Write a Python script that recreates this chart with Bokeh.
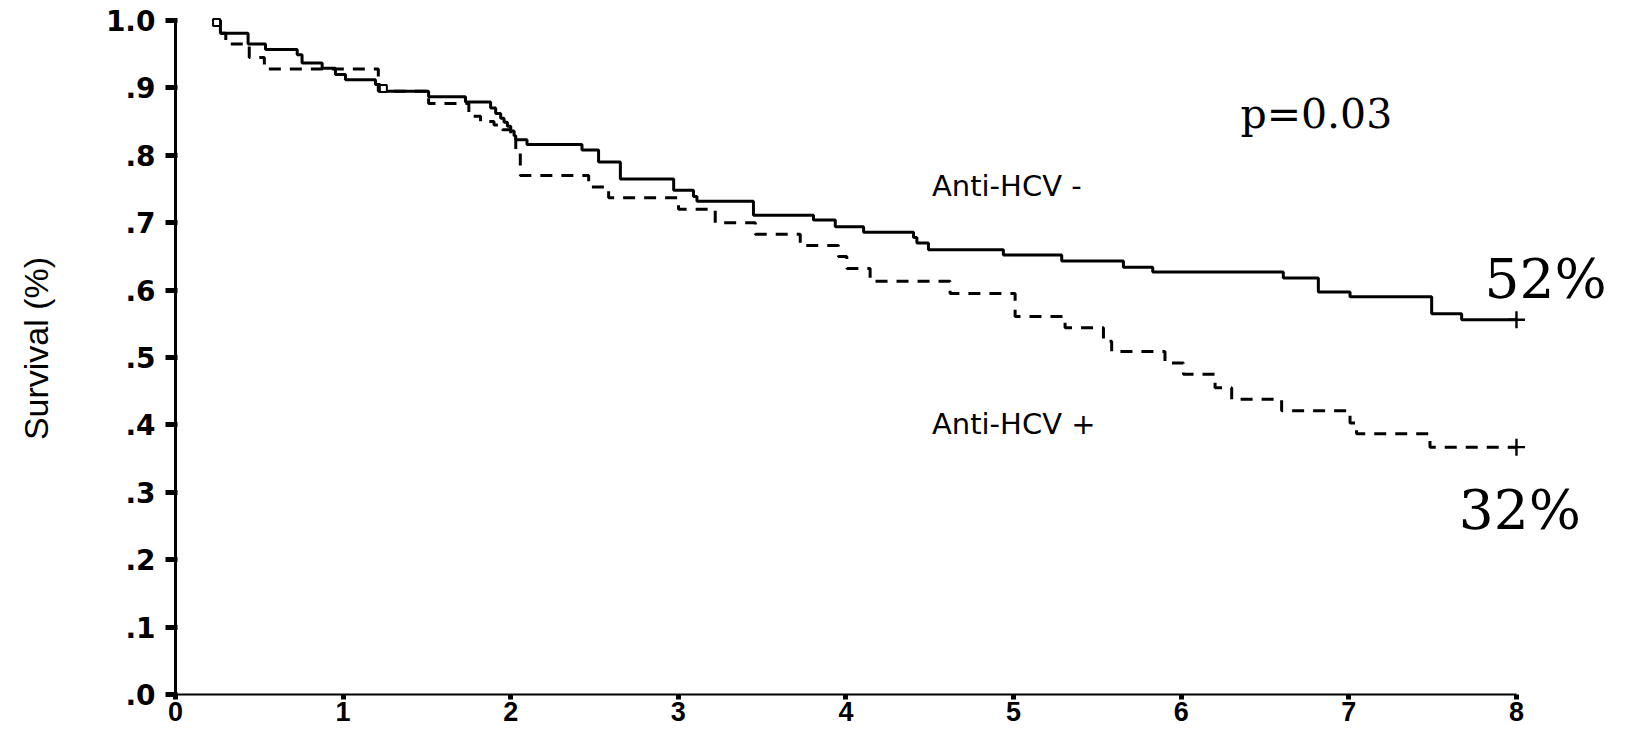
from bokeh.plotting import figure
from bokeh.models import Range1d, FixedTicker
from bokeh.core.properties import value
from bokeh.embed import file_html
from bokeh.resources import INLINE

# ---- data (time in years, survival fraction) ----
times_neg = [0.22, 0.268, 0.433, 0.537, 0.726, 0.755, 0.875, 0.954, 1.014, 1.193, 1.22,
             1.51, 1.73, 1.88, 1.91, 1.94, 1.96, 1.98, 2.00, 2.02, 2.03, 2.097, 2.425,
             2.524, 2.654, 2.972, 3.09, 3.111, 3.448, 3.806, 3.936, 4.105, 4.403, 4.423,
             4.492, 4.939, 5.287, 5.655, 5.830, 6.609, 6.818, 7.007, 7.494, 7.673, 8.0]
surv_neg = [1.0, 0.981, 0.965, 0.957, 0.949, 0.937, 0.929, 0.920, 0.912, 0.905, 0.895,
            0.887, 0.879, 0.870, 0.862, 0.855, 0.849, 0.843, 0.836, 0.829, 0.823, 0.816, 0.808,
            0.790, 0.765, 0.748, 0.739, 0.732, 0.711, 0.704, 0.694, 0.686, 0.678, 0.670,
            0.660, 0.652, 0.643, 0.634, 0.627, 0.618, 0.597, 0.590, 0.565, 0.556, 0.556]

times_pos = [0.22, 0.268, 0.30, 0.44, 0.53, 1.21, 1.51, 1.75, 1.82, 1.90, 1.95, 2.00,
             2.03, 2.057, 2.465, 2.584, 3.001, 3.220, 3.459, 3.727, 3.955, 4.005, 4.144,
             4.621, 5.009, 5.307, 5.536, 5.585, 5.903, 6.013, 6.202, 6.301, 6.599, 7.007,
             7.046, 7.484, 8.0]
surv_pos = [1.0, 0.981, 0.965, 0.945, 0.928, 0.895, 0.877, 0.858, 0.850, 0.845, 0.838, 0.825,
            0.808, 0.770, 0.753, 0.737, 0.720, 0.700, 0.683, 0.666, 0.650, 0.632, 0.613,
            0.595, 0.561, 0.544, 0.524, 0.509, 0.492, 0.475, 0.455, 0.438, 0.421, 0.403,
            0.387, 0.367, 0.367]

end_x = [8.0, 8.0]
end_y = [0.556, 0.367]
censor_x = [0.245, 1.24]
censor_y = [0.997, 0.899]

x_ticks = [0, 1, 2, 3, 4, 5, 6, 7, 8]
y_ticks = [0.0, 0.1, 0.2, 0.3, 0.4, 0.5, 0.6, 0.7, 0.8, 0.9, 1.0]
y_tick_labels = [".0", ".1", ".2", ".3", ".4", ".5", ".6", ".7", ".8", ".9", "1.0"]

group_labels = ["Anti-HCV -", "Anti-HCV +"]
group_label_x = [4.513, 4.513]
group_label_y = [0.754, 0.402]
pct_labels = ["52%", "32%"]
pct_x = [7.81, 7.655]
pct_y = [0.616, 0.274]
p_text = ["p=0.03"]
p_x = [6.353]
p_y = [0.861]

# ---- figure ----
p = figure(width=1641, height=732, output_backend="svg", toolbar_location=None,
           x_range=Range1d(0, 8.728), y_range=Range1d(0, 1.0267),
           min_border_left=175, min_border_right=3, min_border_top=2, min_border_bottom=38)
p.outline_line_color = None
p.grid.visible = False
p.background_fill_color = "white"
p.border_fill_color = "white"

# curves
p.step(times_neg, surv_neg, mode="after", line_color="black", line_width=3)
p.step(times_pos, surv_pos, mode="after", line_color="black", line_width=3,
       line_dash="12 9")
p.scatter(end_x, end_y, marker="cross", size=17, line_width=2.4, color="black")
p.scatter(censor_x, censor_y, marker="square", size=7, line_width=2,
          line_color="black", fill_color="white")

# text annotations
p.text(x=group_label_x, y=group_label_y, text=group_labels,
       text_font=value("DejaVu Sans"), text_font_size=value("29px"),
       text_color="black", text_baseline="alphabetic", text_align="left")
p.text(x=pct_x, y=pct_y, text=pct_labels,
       text_font=value("DejaVu Serif"), text_font_size=value("55px"),
       text_color="black", text_baseline="alphabetic", text_align="left")
p.text(x=p_x, y=p_y, text=p_text,
       text_font=value("DejaVu Serif"), text_font_size=value("41px"),
       text_color="black", text_baseline="alphabetic", text_align="left")

# x axis
xa = p.xaxis[0]
xa.bounds = (0, 8)
xa.ticker = FixedTicker(ticks=x_ticks)
xa.minor_tick_line_color = None
xa.axis_line_width = 2
xa.axis_line_color = "black"
xa.major_tick_line_width = 5
xa.major_tick_out = 5
xa.major_tick_in = 0
xa.major_label_standoff = 2
xa.major_label_text_font = "Liberation Sans"
xa.major_label_text_font_style = "bold"
xa.major_label_text_font_size = "27px"
xa.major_label_text_color = "black"

# y axis
ya = p.yaxis[0]
ya.bounds = (0, 1)
ya.ticker = FixedTicker(ticks=y_ticks)
ya.major_label_overrides = {t: lab for t, lab in zip(y_ticks, y_tick_labels)}
ya.minor_tick_line_color = None
ya.axis_line_width = 3
ya.axis_line_color = "black"
ya.major_tick_line_width = 5
ya.major_tick_out = 10
ya.major_tick_in = 2
ya.major_label_standoff = 10
ya.major_label_text_font = "DejaVu Sans"
ya.major_label_text_font_style = "bold"
ya.major_label_text_font_size = "28px"
ya.major_label_text_color = "black"
ya.axis_label = "Survival (%)"
ya.axis_label_text_font = "Liberation Sans"
ya.axis_label_text_font_style = "normal"
ya.axis_label_text_font_size = "34px"
ya.axis_label_text_color = "black"
ya.axis_label_standoff = 48

open("out.html", "w").write(file_html(p, INLINE))
